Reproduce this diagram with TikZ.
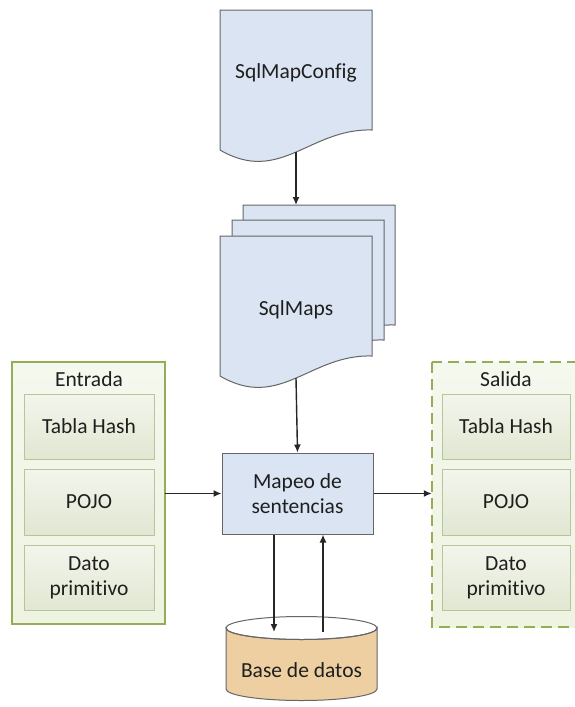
\documentclass[tikz,border=0pt]{standalone}
\usepackage{fontspec}
\setmainfont{Carlito}[Ligatures={NoCommon,NoContextual}]
\usetikzlibrary{arrows.meta}
\definecolor{docblue}{HTML}{DAE4F2}
\definecolor{docline}{HTML}{666666}
\definecolor{grnline}{HTML}{93AE55}
\definecolor{grnfill}{HTML}{EEF3E2}
\definecolor{innerline}{HTML}{B5C69A}
\definecolor{innertop}{HTML}{F3F5EC}
\definecolor{innerbot}{HTML}{E1E7D2}
\definecolor{dbfill}{HTML}{EDCFA2}
\definecolor{txt}{HTML}{1F1F1F}
\tikzset{
  lbl/.style={font=\fontsize{21.5}{25}\selectfont, text=txt, align=center},
  docshape/.style={fill=docblue, draw=docline, line width=1pt},
  container/.style={draw=grnline, line width=1.8pt, top color=grnfill!60!white, bottom color=grnfill},
  inbox/.style={draw=innerline, line width=1pt, top color=innertop, bottom color=innerbot, rectangle, inner sep=0pt},
  conn/.style={line width=1.4pt, draw=black!85, -{Latex[length=8pt,width=7pt]}},
  procbox/.style={rectangle, fill=docblue, draw=docline, line width=1pt, inner sep=0pt}
}
\newcommand{\docpath}[2]{% x offset, y offset
  (220+#1,10+#2) -- (372+#1,10+#2) -- (372+#1,130+#2)
  .. controls (310+#1,128+#2) and (280+#1,185+#2) .. (220+#1,150+#2) -- cycle}
\begin{document}
\begin{tikzpicture}[x=1pt,y=-1pt]
\useasboundingbox (0,0) rectangle (574,707);
\fill[white] (0,0) rectangle (574,707);

% SqlMapConfig document
\draw[docshape] \docpath{0}{0};
\node[lbl] (cfg) at (296,73) {SqlMapConfig};
\coordinate (cfgbot) at (296,152);

% SqlMaps stack
\draw[docshape] \docpath{23}{195};
\draw[docshape] \docpath{12}{210};
\draw[docshape] \docpath{0}{226};
\node[lbl] (maps) at (296,310) {SqlMaps};
\coordinate (mapstop) at (296,195+10);
\coordinate (mapsbot) at (296,378);

% Mapeo de sentencias
\node[procbox, minimum width=151pt, minimum height=81pt] (mapeo) at (297.5,493.5) {};
\node[lbl] (mapeotxt) at (mapeo) {Mapeo de\\sentencias};

% Entrada container
\draw[container] (12,362) rectangle (165,624);
\node[inner sep=0pt, minimum width=153pt, minimum height=262pt] (entrada) at (88.5,493) {};
\node[lbl] (entt) at (89,379) {Entrada};
\node[inbox, minimum width=130pt, minimum height=65pt] (e1) at (89,426.5) {};
\node[lbl] at (e1) {Tabla Hash};
\node[inbox, minimum width=130pt, minimum height=66pt] (e2) at (89,502) {};
\node[lbl] at (e2) {POJO};
\node[inbox, minimum width=130pt, minimum height=65pt] (e3) at (89,577.5) {};
\node[lbl] at (e3) {Dato\\primitivo};

% Salida container
\draw[container, dash pattern=on 11pt off 6pt] (432,362) rectangle (580,627);
\node[inner sep=0pt, minimum width=148pt, minimum height=265pt] (salida) at (506,493) {};
\node[lbl] (salt) at (506,379) {Salida};
\node[inbox, minimum width=128pt, minimum height=65pt] (s1) at (506,426.5) {};
\node[lbl] at (s1) {Tabla Hash};
\node[inbox, minimum width=128pt, minimum height=66pt] (s2) at (506,502) {};
\node[lbl] at (s2) {POJO};
\node[inbox, minimum width=128pt, minimum height=65pt] (s3) at (506,577.5) {};
\node[lbl] at (s3) {Dato\\primitivo};

% Database cylinder
\filldraw[fill=dbfill, draw=docline, line width=1pt]
  (226,628) -- (226,689) arc[start angle=180, end angle=0, x radius=75.5, y radius=11.5]
  -- (377,628) arc[start angle=0, end angle=180, x radius=75.5, y radius=11.5] -- cycle;
\draw[docline, line width=1pt] (301.5,628) ellipse[x radius=75.5, y radius=11.5];
\node[lbl] (db) at (301.5,670) {Base de datos};
\coordinate (dbin) at (274,632);
\coordinate (dbout) at (323,632);

% Connectors
\draw[conn] (cfgbot) -- (mapstop);
\draw[conn] (mapsbot) -- (mapeo.north);
\draw[conn] (entrada.east |- mapeo.west) -- (mapeo.west);
\draw[conn] (mapeo.east) -- (salida.west |- mapeo.east);
\draw[conn] (mapeo.south -| dbin) -- (dbin);
\draw[conn] (dbout) -- (mapeo.south -| dbout);
\end{tikzpicture}
\end{document}
